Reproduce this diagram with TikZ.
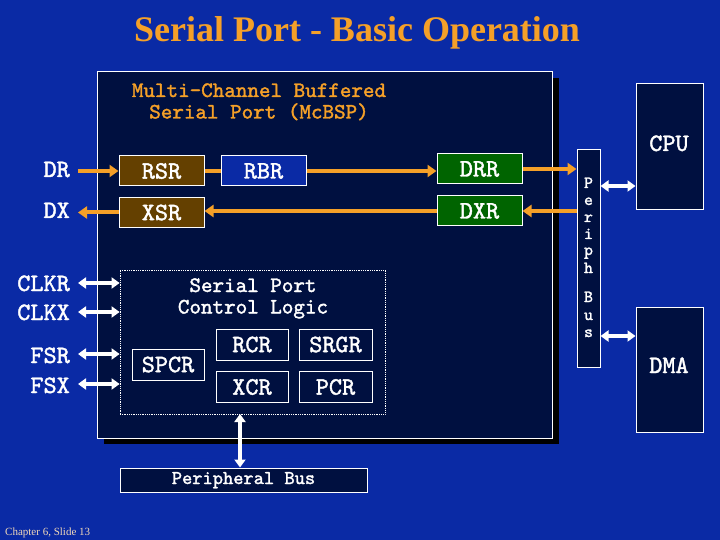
\documentclass[tikz,border=0pt]{standalone}
\usepackage{fontspec}
\setmainfont{Liberation Serif}
\newfontfamily\cmono{lmmono10-regular}[Extension=.otf, FakeBold=1.6]
\usetikzlibrary{arrows.meta,calc}
\definecolor{bgblue}{RGB}{10,42,165}
\definecolor{navy}{RGB}{0,16,64}
\definecolor{oran}{RGB}{245,160,40}
\definecolor{brownreg}{RGB}{100,64,0}
\definecolor{greenreg}{RGB}{0,100,0}
\definecolor{pale}{RGB}{240,215,185}
\begin{document}
\begin{tikzpicture}[x=1pt,y=-1pt,
  box/.style={draw=white, line width=1pt, inner sep=0pt},
  reg/.style={box, minimum width=85pt, minimum height=30pt, text=white,
    font=\fontsize{25}{27}\selectfont\cmono},
  ctlreg/.style={box, minimum width=72pt, minimum height=31pt, text=white,
    font=\fontsize{25}{27}\selectfont\cmono},
  lbl/.style={text=white, inner sep=0pt, anchor=base east,
    font=\fontsize{25}{27}\selectfont\cmono},
  otxt/.style={text=oran, inner sep=0pt, anchor=base, align=center,
    font=\fontsize{22}{21.5}\selectfont\cmono},
  wtxt/.style={text=white, inner sep=0pt, anchor=base, align=center,
    font=\fontsize{22}{21.5}\selectfont\cmono},
  plet/.style={text=white, inner sep=0pt, anchor=base,
    font=\fontsize{17}{18}\selectfont\cmono},
  oarrow/.style={draw=oran, line width=4pt, -{Triangle[length=9pt,width=12pt]}},
  oline/.style={draw=oran, line width=4pt},
  warrow/.style={draw=white, line width=4pt, {Triangle[length=8pt,width=11pt]}-{Triangle[length=8pt,width=11pt]}},
]
\useasboundingbox (0,0) rectangle (720,540);
\fill[bgblue] (0,0) rectangle (720,540);

% title
\node[text=oran, inner sep=0pt, anchor=base, font=\fontsize{36}{40}\selectfont\bfseries] (title) at (357,42) {Serial Port - Basic Operation};

% main McBSP box with shadow
\fill[black] (104,78) rectangle (559,444);
\node[box, fill=navy, minimum width=455pt, minimum height=366pt] (mcbsp) at (324.5,255) {};
\node[otxt] (t1) at (259,118.5) {Multi-Channel Buffered\\Serial Port (McBSP)};

% registers
\node[reg, fill=brownreg] (rsr) at (161.5,171) {RSR};
\node[reg, fill=bgblue] (rbr) at (263.5,171) {RBR};
\node[reg, fill=brownreg] (xsr) at (161.5,212.5) {XSR};
\node[reg, fill=greenreg] (drr) at (479.5,169) {DRR};
\node[reg, fill=greenreg] (dxr) at (479.5,211) {DXR};

% pin labels
\node[lbl] (dr) at (70,177) {DR};
\node[lbl] (dx) at (70,218) {DX};
\node[lbl] (clkr) at (70,291) {CLKR};
\node[lbl] (clkx) at (70,320) {CLKX};
\node[lbl] (fsr) at (70,363) {FSR};
\node[lbl] (fsx) at (70,393) {FSX};

% control logic
\node[draw=white, densely dotted, line width=0.8pt, minimum width=265pt, minimum height=144pt, inner sep=0pt] (ctl) at (252.5,342) {};
\node[wtxt] (c1) at (253,313.5) {Serial Port\\Control Logic};
\node[ctlreg] (spcr) at (168,364.5) {SPCR};
\node[ctlreg] (rcr) at (252,344.5) {RCR};
\node[ctlreg, minimum width=73pt] (srgr) at (335.5,344.5) {SRGR};
\node[ctlreg] (xcr) at (252,387) {XCR};
\node[ctlreg, minimum width=73pt] (pcr) at (335.5,387) {PCR};

% peripheral bus (bottom)
\node[box, fill=navy, minimum width=247pt, minimum height=24pt] (pbus) at (243.5,480) {};
\node[text=white, inner sep=0pt, anchor=base, font=\fontsize{19.5}{21}\selectfont\cmono] (pbt) at (243.5,484) {Peripheral Bus};

% periph bus (vertical)
\node[box, fill=navy, minimum width=23pt, minimum height=217pt] (pb) at (588.5,258.5) {};
\node[plet] (p1) at (588.5,188) {P};
\node[plet] (p2) at (588.5,205) {e};
\node[plet] (p3) at (588.5,222) {r};
\node[plet] (p4) at (588.5,239) {i};
\node[plet] (p5) at (588.5,255) {p};
\node[plet] (p6) at (588.5,273) {h};
\node[plet] (p7) at (588.5,302) {B};
\node[plet] (p8) at (588.5,320) {u};
\node[plet] (p9) at (588.5,337) {s};

% CPU and DMA
\node[box, fill=navy, minimum width=67pt, minimum height=126pt] (cpu) at (669.5,147) {};
\node[text=white, inner sep=0pt, anchor=base, font=\fontsize{25}{27}\selectfont\cmono] (cput) at (669,151) {CPU};
\node[box, fill=navy, minimum width=67pt, minimum height=125pt] (dma) at (669.5,369.5) {};
\node[text=white, inner sep=0pt, anchor=base, font=\fontsize{25}{27}\selectfont\cmono] (dmat) at (669,373) {DMA};

% orange data paths
\draw[oarrow] ($(dr.east |- rsr.west)+(8,0)$) -- (rsr.west);
\draw[oline] (rsr.east) -- (rbr.west);
\draw[oarrow] (rbr.east) -- (rbr.east -| drr.west);
\draw[oarrow] (drr.east) -- (drr.east -| pb.west);
\draw[oarrow] (dxr.east -| pb.west) -- (dxr.east);
\draw[oarrow] (dxr.west) -- (dxr.west -| xsr.east);
\draw[oarrow] (xsr.west) -- ($(dx.east |- xsr.west)+(8,0)$);

% white control arrows
\coordinate (yclkr) at (0,283);
\coordinate (yclkx) at (0,312);
\coordinate (yfsr) at (0,354);
\coordinate (yfsx) at (0,384);
\draw[warrow] ($(clkr.east |- yclkr)+(8,0)$) -- (ctl.west |- yclkr);
\draw[warrow] ($(clkx.east |- yclkx)+(8,0)$) -- (ctl.west |- yclkx);
\draw[warrow] ($(fsr.east |- yfsr)+(8,0)$) -- (ctl.west |- yfsr);
\draw[warrow] ($(fsx.east |- yfsx)+(8,0)$) -- (ctl.west |- yfsx);
\coordinate (vb) at (240,414);
\draw[warrow] (vb) -- (vb |- pbus.north);
\coordinate (ycpu) at (0,186);
\coordinate (ydma) at (0,336);
\draw[warrow] (pb.east |- ycpu) -- (cpu.west |- ycpu);
\draw[warrow] (pb.east |- ydma) -- (dma.west |- ydma);

% footer
\node[text=pale, inner sep=0pt, anchor=base west, font=\fontsize{11}{13}\selectfont] (foot) at (5,535) {Chapter 6, Slide 13};
\end{tikzpicture}
\end{document}
